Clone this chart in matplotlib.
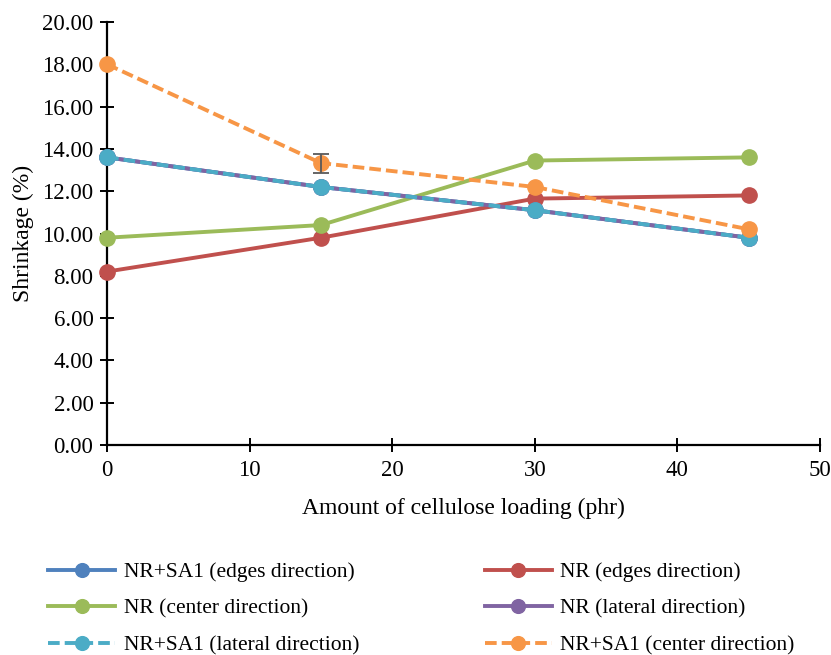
import matplotlib
matplotlib.use("Agg")
import matplotlib.pyplot as plt

plt.rcParams['font.family'] = ['Liberation Serif', 'DejaVu Serif']

loading = [0, 15, 30, 45]

nr_sa1_edges = [13.6, 12.2, 11.1, 9.8]
nr_edges = [8.2, 9.8, 11.65, 11.8]
nr_center = [9.8, 10.4, 13.45, 13.6]
nr_lateral = [13.6, 12.2, 11.1, 9.8]
nr_sa1_lateral = [13.6, 12.2, 11.1, 9.8]
nr_sa1_center = [18.0, 13.33, 12.2, 10.2]
nr_sa1_center_err = [0.0, 0.45, 0.0, 0.0]

labels = [
    "NR+SA1 (edges direction)",
    "NR (edges direction)",
    "NR (center direction)",
    "NR (lateral direction)",
    "NR+SA1 (lateral direction)",
    "NR+SA1 (center direction)",
]
series = [nr_sa1_edges, nr_edges, nr_center, nr_lateral, nr_sa1_lateral, nr_sa1_center]
colors = ["#4F81BD", "#C0504D", "#9BBB59", "#8064A2", "#4BACC6", "#F79646"]
dash = (0, (3.0, 1.3))
styles = ["-", "-", "-", "-", dash, dash]

fig = plt.figure(figsize=(8.31, 6.55), dpi=100)
ax = fig.add_axes([0.1288, 0.3206, 0.8580, 0.6458])

handles = []
for vals, lab, col, ls in zip(series, labels, colors, styles):
    h, = ax.plot(loading, vals, color=col, linestyle=ls, linewidth=2.8,
                 marker="o", markersize=11, label=lab, dash_capstyle="butt",
                 clip_on=False, zorder=3)
    handles.append(h)

# error bars on the center-direction NR+SA1 series
for xv, yv, ev in zip(loading, nr_sa1_center, nr_sa1_center_err):
    if ev > 0:
        ax.errorbar(xv, yv, yerr=ev, fmt="none", ecolor="#595959",
                    elinewidth=1.3, capsize=6, capthick=1.3, zorder=4)

ax.set_xlim(0, 50)
ax.set_ylim(0, 20)
ax.set_xticks([0, 10, 20, 30, 40, 50])
ax.set_yticks([i * 2 for i in range(11)])
ax.set_yticklabels([f"{i * 2:.2f}" for i in range(11)])

for side in ["top", "right"]:
    ax.spines[side].set_visible(False)
for side in ["left", "bottom"]:
    ax.spines[side].set_linewidth(1.6)
    ax.spines[side].set_color("black")

ax.tick_params(axis="both", direction="inout", length=9.5, width=1.4,
               labelsize=16.5, colors="black")
ax.tick_params(axis="y", pad=5)
ax.tick_params(axis="x", pad=6)
ax.set_xlabel("Amount of cellulose loading (phr)", fontsize=17, labelpad=12)
ax.set_ylabel("Shrinkage (%)", fontsize=17, labelpad=6)

order = [0, 2, 4, 1, 3, 5]
fig.legend([handles[i] for i in order], [labels[i] for i in order],
           ncol=2, loc="upper left", bbox_to_anchor=(0.058, 0.142),
           frameon=False, fontsize=15.5, handlelength=3.1, handletextpad=0.4,
           columnspacing=5.85, labelspacing=0.78, borderaxespad=0, borderpad=0,
           markerscale=0.9)

fig.savefig("out.png", dpi=100)
